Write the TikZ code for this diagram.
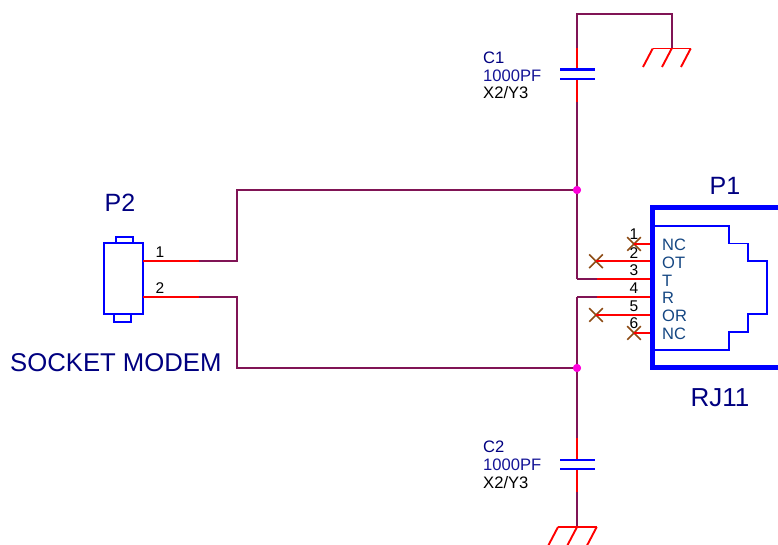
\documentclass[tikz,border=0pt]{standalone}
\usepackage{fontspec}
\setmainfont{Liberation Sans}
\usetikzlibrary{shapes.misc}
\definecolor{wirec}{RGB}{128,20,85}
\definecolor{pinc}{RGB}{255,0,0}
\definecolor{bodyc}{RGB}{0,0,255}
\definecolor{navyc}{RGB}{0,0,128}
\definecolor{midc}{RGB}{20,20,150}
\definecolor{labc}{RGB}{20,70,130}
\definecolor{xc}{RGB}{140,75,20}
\definecolor{dotc}{RGB}{255,0,220}
\tikzset{
  wire/.style={draw=wirec,line width=1.8pt},
  pinline/.style={draw=pinc,line width=1.9pt},
  body/.style={draw=bodyc,line width=1.9pt},
  plate/.style={draw=bodyc,line width=2.2pt},
  frame/.style={draw=bodyc,line width=5pt},
  dot/.style={circle,fill=dotc,inner sep=0pt,minimum size=8pt},
  nc/.style={cross out,draw=xc,line width=1.6pt,inner sep=0pt,minimum size=12pt},
  big/.style={inner sep=0pt,text=navyc,font=\fontsize{25}{25}\selectfont},
  small/.style={inner sep=0pt,font=\fontsize{16.6}{17}\selectfont},
  pinnum/.style={inner sep=0pt,text=black,font=\fontsize{15.5}{16}\selectfont},
  pinlab/.style={inner sep=0pt,anchor=west,text=labc,font=\fontsize{16.5}{17}\selectfont},
}
\begin{document}
\begin{tikzpicture}[x=1pt,y=-1pt]
\useasboundingbox (0,0) rectangle (778,545);
% junctions
\node[dot] (jt) at (577,190) {};
\node[dot] (jb) at (577,368) {};
% P1 connector
\coordinate (f1) at (778,208);
\coordinate (f2) at (652.7,208);
\coordinate (f3) at (652.7,367);
\coordinate (f4) at (778,367);
\draw[body] (652,226) -- (728.7,226) -- (728.7,243.5) -- (747.7,243.5) -- (747.7,261) -- (766.7,261) -- (766.7,314) -- (747.7,314) -- (747.7,332) -- (728.7,332) -- (728.7,350) -- (652,350);
% P1 pins
\foreach \n/\y in {1/243.9,2/261.3,3/279,4/297,5/314.9,6/332.9}{
  \coordinate (p\n) at (652,\y);
}
\coordinate (r3) at (597,279);
\coordinate (r4) at (597,297);
\coordinate (w3) at (577,279);
\coordinate (w4) at (577,297);
\node[nc] (x1) at (634,243.9) {};
\node[nc] (x2) at (596,261.3) {};
\node[nc] (x5) at (596,314.9) {};
\node[nc] (x6) at (634,332.9) {};
\draw[pinline] (p1) -- (x1.center);
\draw[pinline] (p2) -- (x2.center);
\draw[pinline] (p3) -- (r3);
\draw[pinline] (p4) -- (r4);
\draw[pinline] (p5) -- (x5.center);
\draw[pinline] (p6) -- (x6.center);
\draw[wire] (r3) -- (w3);
\draw[wire] (r4) -- (w4);
\draw[frame,line join=miter] (f1) -- (f2) -- (f3) -- (f4);
% C1
\coordinate (c1top) at (577,69.5);
\coordinate (c1bot) at (577,79);
\coordinate (c1r1) at (577,48);
\coordinate (c1r2) at (577,102);
\coordinate (cor1) at (577,14);
\coordinate (cor2) at (671.7,14);
\coordinate (g1) at (671.7,48.5);
\draw[wire] (c1r1) -- (cor1) -- (cor2) -- (g1);
\draw[wire] (c1r2) -- (jt.center) -- (w3);
\draw[pinline] (c1r1) -- (c1top);
\draw[pinline] (c1bot) -- (c1r2);
\draw[plate] (560,69.5) -- (595,69.5);
\draw[plate] (560,79) -- (595,79);
% ground 1
\draw[pinline] (652.7,48.5) -- (690.7,48.5);
\draw[pinline] (652.7,48.5) -- (643,67);
\draw[pinline] (g1) -- (662,67);
\draw[pinline] (690.7,48.5) -- (681,67);
% C2
\coordinate (c2top) at (577,460);
\coordinate (c2bot) at (577,469);
\coordinate (c2r1) at (577,438);
\coordinate (c2r2) at (577,491.7);
\coordinate (g2) at (577,527);
\draw[wire] (w4) -- (jb.center) -- (c2r1);
\draw[wire] (c2r2) -- (g2);
\draw[pinline] (c2r1) -- (c2top);
\draw[pinline] (c2bot) -- (c2r2);
\draw[plate] (560,460) -- (595,460);
\draw[plate] (560,469) -- (595,469);
% ground 2
\draw[pinline] (558,527) -- (596.7,527);
\draw[pinline] (558,527) -- (548.3,545.5);
\draw[pinline] (g2) -- (567.3,545.5);
\draw[pinline] (596.7,527) -- (587,545.5);
% P2
\draw[body] (104.3,243.3) rectangle (142.7,314.3);
\draw[body] (116,243.3) -- (116,236.7) -- (133.3,236.7) -- (133.3,243.3);
\draw[body] (113.7,314.3) -- (113.7,321.7) -- (131.3,321.7) -- (131.3,314.3);
\coordinate (q1) at (143,261.3);
\coordinate (q2) at (143,296.7);
\coordinate (s1) at (199,261.3);
\coordinate (s2) at (199,296.7);
\coordinate (b1) at (237,261.3);
\coordinate (b2) at (237,296.7);
\coordinate (t1) at (237,190);
\coordinate (t2) at (237,368);
\draw[pinline] (q1) -- (s1);
\draw[pinline] (q2) -- (s2);
\draw[wire] (s1) -- (b1) -- (t1) -- (jt.center);
\draw[wire] (s2) -- (b2) -- (t2) -- (jb.center);
\node[dot] at (jt) {};
\node[dot] at (jb) {};
% texts
\node[big] (tp2) at (120,203) {P2};
\node[big,anchor=west] (tsm) at (10,363) {\fontsize{25.7}{26}\selectfont SOCKET MODEM};
\node[big] (tp1) at (725,186) {P1};
\node[big] (trj) at (720,398) {\fontsize{26}{26}\selectfont RJ11};
\node[small,anchor=west,text=navyc] (tc1) at (483,58) {C1};
\node[small,anchor=west,text=midc] (tv1) at (483,75.5) {1000PF};
\node[small,anchor=west,text=black] (tt1) at (483,93) {X2/Y3};
\node[small,anchor=west,text=navyc] (tc2) at (483,447) {C2};
\node[small,anchor=west,text=midc] (tv2) at (483,465) {1000PF};
\node[small,anchor=west,text=black] (tt2) at (483,483) {X2/Y3};
\node[pinnum] (n21) at (160,252) {1};
\node[pinnum] (n22) at (160,288) {2};
\foreach \n/\y in {1/234,2/253,3/270,4/288,5/306,6/323}{
  \node[pinnum] (n\n) at (634,\y) {\n};
}
\foreach \t/\y in {NC/245,OT/263,T/281,R/298,OR/316,NC/334}{
  \node[pinlab] (l\y) at (662,\y) {\t};
}
\end{tikzpicture}
\end{document}
